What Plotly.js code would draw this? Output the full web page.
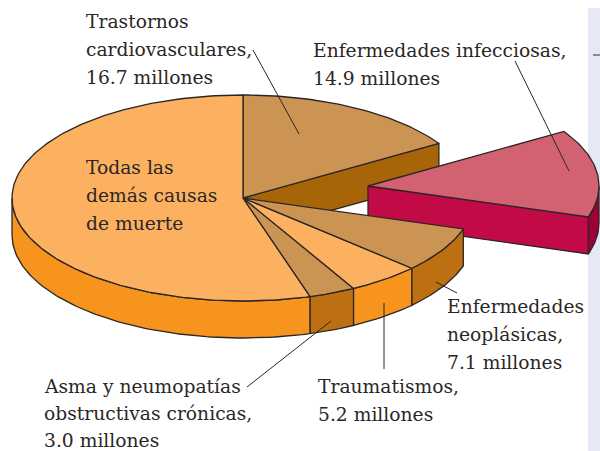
<!DOCTYPE html>
<html><head><meta charset="utf-8">
<script src="https://cdn.plot.ly/plotly-3.0.1.min.js"></script>
<style>html,body{margin:0;padding:0;background:#fff}#c{width:600px;height:451px}</style></head>
<body><div id="c"></div>
<script>
// Data
const categories = ["Trastornos cardiovasculares","Enfermedades infecciosas","Enfermedades neoplásicas","Traumatismos","Asma y neumopatías obstructivas crónicas","Todas las demás causas de muerte"];
const millions = [16.7,14.9,7.1,5.2,3.0,null];
const sweepDegrees = [58,49.5,25.5,18.4,11.7,196.9];   // slice angles as drawn in the picture
const topColors = ["#CC9452","#D26272","#CC9452","#FBB160","#CC9452","#FBB160"];
const sideColors = ["#A86408","#9E0038","#BC7011","#F7941D","#BC7011","#F7941D"];
const cutColors = ["#A86408","#C20A46",null,null,null,null];
const explodeX = [0,125,0,0,0,0];
const explodeY = [0,-12,0,0,0,0];

const CX=243,CY=198,RX=231,RY=103,H=37,INK="#2b2626";
const pt=(s,t,dh)=>{const r=t*Math.PI/180;return [CX+explodeX[s]+RX*Math.cos(r),CY+explodeY[s]-RY*Math.sin(r)+(dh||0)];};
const arc=(s,a,b,dh)=>{const o=[],n=Math.max(2,Math.ceil(Math.abs(b-a)));for(let i=0;i<=n;i++)o.push(pt(s,a+(b-a)*i/n,dh));return o;};
const poly=(pts,fill,name)=>({type:"scatter",mode:"lines",name:name,x:pts.map(p=>p[0]).concat(pts[0][0]),y:pts.map(p=>p[1]).concat(pts[0][1]),
  fill:"toself",fillcolor:fill,line:{color:INK,width:1.3},hoverinfo:"skip",showlegend:false});

// slice boundaries
const starts=[];let cur=90;sweepDegrees.forEach(d=>{starts.push(cur);cur-=d;});
const ends=starts.map((s,i)=>s-sweepDegrees[i]);
const apex=(s,dh)=>[CX+explodeX[s],CY+explodeY[s]+(dh||0)];
const topFace=s=>poly([apex(s)].concat(arc(s,starts[s],ends[s])),topColors[s],categories[s]);
const cutFace=(s,t)=>poly([apex(s),pt(s,t),pt(s,t,H),apex(s,H)],cutColors[s],categories[s]);
const rimFace=(s,a,b)=>poly(arc(s,a,b).concat(arc(s,b,a,H)),sideColors[s],categories[s]);

const traces=[
  cutFace(0,ends[0]),
  topFace(0),
  rimFace(1,0,ends[1]),
  cutFace(1,ends[1]),
  topFace(1),
  rimFace(5,starts[5],-180),
  rimFace(4,starts[4],ends[4]),
  rimFace(3,starts[3],ends[3]),
  rimFace(2,starts[2],ends[2]),
  topFace(5),
  topFace(4),
  topFace(3),
  topFace(2)
];

// Text labels, one list per label
const labelRows=[
  {x:86,y:21,gap:28,lines:["Trastornos","cardiovasculares,",millions[0].toFixed(1)+" millones"]},
  {x:313,y:50,gap:28,lines:["Enfermedades infecciosas,",millions[1].toFixed(1)+" millones"]},
  {x:447,y:306,gap:28,lines:["Enfermedades","neoplásicas,",millions[2].toFixed(1)+" millones"]},
  {x:318,y:386,gap:28,lines:["Traumatismos,",millions[3].toFixed(1)+" millones"]},
  {x:44,y:386,gap:27,lines:["Asma y neumopatías","obstructivas crónicas,",millions[4].toFixed(1)+" millones"]},
  {x:86,y:167,gap:28,lines:["Todas las","demás causas","de muerte"]}
];
const annotations=[];
labelRows.forEach(l=>l.lines.forEach((t,i)=>annotations.push({x:l.x,y:l.y+i*l.gap,xref:"x",yref:"y",text:t,showarrow:false,xanchor:"left",yanchor:"middle",
  font:{family:"DejaVu Serif, serif",size:18.7,color:"#2b2626"},borderpad:0,borderwidth:0})));

const leader=(x0,y0,x1,y1)=>({type:"line",layer:"above",xref:"x",yref:"y",x0,y0,x1,y1,line:{color:"#2b2626",width:1}});
const shapes=[
  {type:"rect",layer:"below",xref:"x",yref:"y",x0:588,x1:600,y0:8,y1:451,fillcolor:"#E6E8F5",line:{width:0}},
  {type:"line",layer:"below",xref:"x",yref:"y",x0:593,x1:600,y0:55,y1:55,line:{color:"#5a5a5a",width:1.3}},
  leader(253,50,299,134),leader(515,61,569,171),leader(436,282,457,293),leader(384,303,384,369),leader(331,321,247,387)
];

Plotly.newPlot("c",traces,{
  width:600,height:451,margin:{l:0,r:0,t:0,b:0},paper_bgcolor:"#fff",plot_bgcolor:"rgba(0,0,0,0)",showlegend:false,hovermode:false,
  xaxis:{range:[0,600],visible:false,fixedrange:true},
  yaxis:{range:[451,0],visible:false,fixedrange:true},
  annotations,shapes
},{displayModeBar:false,staticPlot:true});
</script></body></html>
